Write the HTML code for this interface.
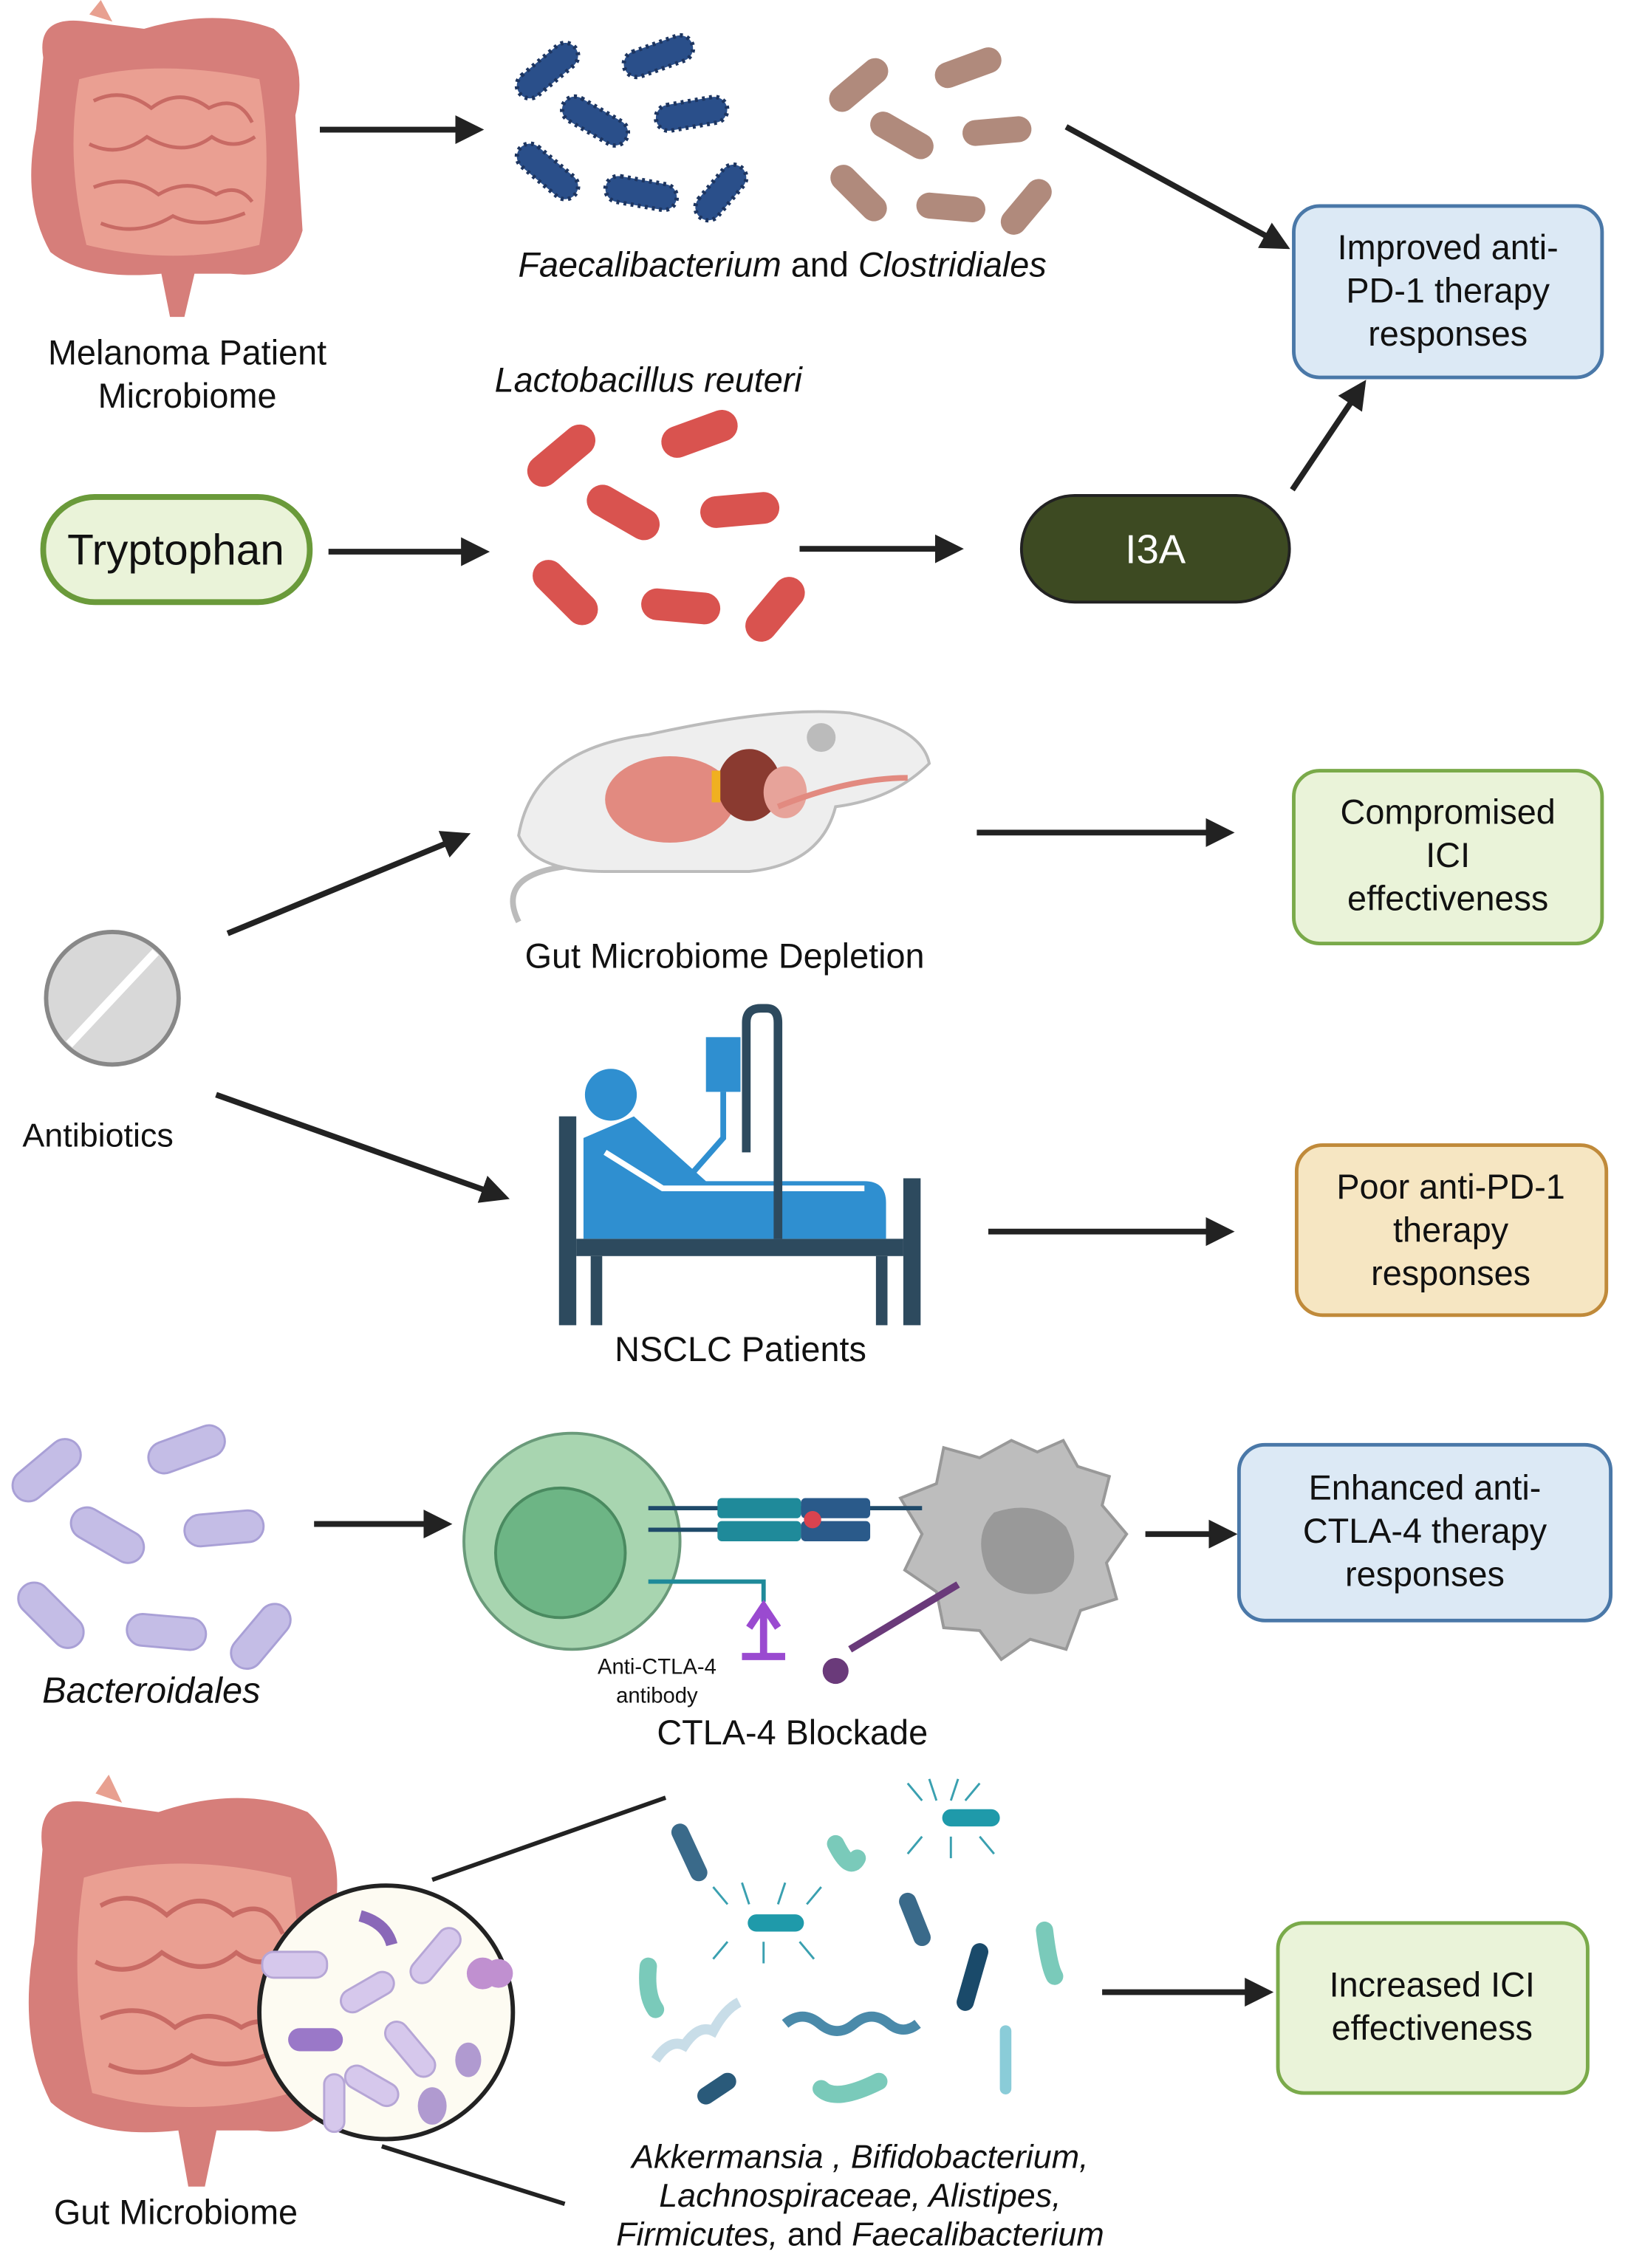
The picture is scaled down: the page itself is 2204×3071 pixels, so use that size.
<!DOCTYPE html>
<html><head><meta charset="utf-8"><style>
html,body{margin:0;padding:0;background:#fff;width:2204px;height:3071px;overflow:hidden}
text{font-family:"Liberation Sans",sans-serif;fill:#111}
.it{font-style:italic}
</style></head><body>
<svg width="2204" height="3071" viewBox="0 0 1130 1574.5" xmlns="http://www.w3.org/2000/svg">
<defs>
<marker id="ah" markerWidth="5" markerHeight="5" refX="4" refY="2.5" orient="auto" markerUnits="strokeWidth"><path d="M0,0 L5,2.5 L0,5 z" fill="#222"/></marker>
<g id="gut">
 <path d="M30,40 Q25,10 60,15 L100,20 Q150,5 190,20 Q215,40 205,80 L210,160 Q200,195 160,190 L135,190 L128,220 L118,220 L112,190 Q60,195 35,175 Q15,140 25,90 Z" fill="#d67e7a"/>
 <path d="M55,55 Q110,40 180,55 Q190,110 180,170 Q120,185 60,170 Q45,110 55,55 Z" fill="#ea9f92"/>
 <path d="M65,70 q20,-10 40,5 q20,-15 40,0 q20,-10 30,10 M62,100 q20,10 40,-5 q25,15 45,0 q15,10 30,0 M65,130 q25,-10 45,5 q20,-12 40,0 q15,-8 25,5 M70,155 q25,10 50,-5 q20,10 50,-2" stroke="#c86a64" stroke-width="2.5" fill="none"/>
 <path d="M62,10 L70,0 L78,15" fill="#e8a090"/>
</g>
</defs>

<use href="#gut" x="0" y="0"/>
<text x="130" y="253" font-size="24" text-anchor="middle">Melanoma Patient</text>
<text x="130" y="283" font-size="24" text-anchor="middle">Microbiome</text>
<line x1="222" y1="90" x2="332" y2="90" stroke="#222" stroke-width="4" marker-end="url(#ah)"/>
<g fill="#2a4f8a" stroke="#1d3560" stroke-width="3" stroke-dasharray="2 3">
 <rect x="355" y="40" width="50" height="18" rx="9" transform="rotate(-40 380 49)"/>
 <rect x="432" y="30" width="50" height="18" rx="9" transform="rotate(-20 457 39)"/>
 <rect x="388" y="75" width="50" height="18" rx="9" transform="rotate(30 413 84)"/>
 <rect x="455" y="70" width="50" height="18" rx="9" transform="rotate(-10 480 79)"/>
 <rect x="355" y="110" width="50" height="18" rx="9" transform="rotate(40 380 119)"/>
 <rect x="420" y="125" width="50" height="18" rx="9" transform="rotate(10 445 134)"/>
 <rect x="478" y="125" width="45" height="18" rx="9" transform="rotate(-50 500 134)"/>
</g>
<g fill="#b08a7c">
 <rect x="572" y="50" width="48" height="18" rx="9" transform="rotate(-40 596 59)"/>
 <rect x="648" y="38" width="48" height="18" rx="9" transform="rotate(-20 672 47)"/>
 <rect x="602" y="85" width="48" height="18" rx="9" transform="rotate(30 626 94)"/>
 <rect x="668" y="82" width="48" height="18" rx="9" transform="rotate(-5 692 91)"/>
 <rect x="572" y="125" width="48" height="18" rx="9" transform="rotate(45 596 134)"/>
 <rect x="636" y="135" width="48" height="18" rx="9" transform="rotate(5 660 144)"/>
 <rect x="690" y="135" width="45" height="18" rx="9" transform="rotate(-50 712 144)"/>
</g>
<text x="543" y="192" font-size="24" text-anchor="middle"><tspan class="it">Faecalibacterium</tspan> and <tspan class="it">Clostridiales</tspan></text>
<line x1="740" y1="88" x2="892" y2="171" stroke="#222" stroke-width="4" marker-end="url(#ah)"/>
<rect x="898" y="143" width="214" height="119" rx="18" fill="#dce9f5" stroke="#4a78a8" stroke-width="2.5"/>
<text x="1005" y="180" font-size="24" text-anchor="middle">Improved anti-</text>
<text x="1005" y="210" font-size="24" text-anchor="middle">PD-1 therapy</text>
<text x="1005" y="240" font-size="24" text-anchor="middle">responses</text>

<text x="450" y="272" font-size="24" text-anchor="middle" class="it">Lactobacillus reuteri</text>
<rect x="30" y="345" width="185" height="73" rx="36" fill="#eaf3d9" stroke="#6a9a3a" stroke-width="4"/>
<text x="122" y="392" font-size="30" text-anchor="middle">Tryptophan</text>
<line x1="228" y1="383" x2="336" y2="383" stroke="#222" stroke-width="4" marker-end="url(#ah)"/>
<g fill="#d9534f">
 <rect x="362" y="305" width="55" height="22" rx="11" transform="rotate(-40 390 316)"/>
 <rect x="458" y="290" width="55" height="22" rx="11" transform="rotate(-20 486 301)"/>
 <rect x="405" y="345" width="55" height="22" rx="11" transform="rotate(30 433 356)"/>
 <rect x="486" y="343" width="55" height="22" rx="11" transform="rotate(-5 514 354)"/>
 <rect x="365" y="400" width="55" height="22" rx="11" transform="rotate(45 392 411)"/>
 <rect x="445" y="410" width="55" height="22" rx="11" transform="rotate(5 473 421)"/>
 <rect x="512" y="412" width="52" height="22" rx="11" transform="rotate(-50 538 423)"/>
</g>
<line x1="555" y1="381" x2="665" y2="381" stroke="#222" stroke-width="4" marker-end="url(#ah)"/>
<rect x="709" y="344" width="186" height="74" rx="37" fill="#3d4a22" stroke="#222" stroke-width="2"/>
<text x="802" y="391" font-size="28" text-anchor="middle" style="fill:#fff">I3A</text>
<line x1="897" y1="340" x2="946" y2="267" stroke="#222" stroke-width="4" marker-end="url(#ah)"/>

<g>
 <path d="M360,640 Q340,600 420,600" stroke="#bbb" stroke-width="4" fill="none"/>
 <path d="M360,580 Q370,520 450,510 Q540,490 590,495 Q640,505 645,530 Q620,555 580,560 Q570,600 520,605 L420,605 Q370,605 360,580 Z" fill="#eee" stroke="#bbb" stroke-width="2"/>
 <ellipse cx="465" cy="555" rx="45" ry="30" fill="#e28a80"/>
 <ellipse cx="520" cy="545" rx="22" ry="25" fill="#8a3a30"/>
 <ellipse cx="545" cy="550" rx="15" ry="18" fill="#e7a39a"/>
 <rect x="494" y="535" width="6" height="22" fill="#f0b020"/>
 <circle cx="570" cy="512" r="10" fill="#bbb"/>
 <path d="M540,560 Q590,540 630,540" stroke="#e28a80" stroke-width="4" fill="none"/>
</g>
<text x="503" y="672" font-size="24" text-anchor="middle">Gut Microbiome Depletion</text>
<line x1="158" y1="648" x2="323" y2="580" stroke="#222" stroke-width="4" marker-end="url(#ah)"/>
<line x1="678" y1="578" x2="853" y2="578" stroke="#222" stroke-width="4" marker-end="url(#ah)"/>
<rect x="898" y="535" width="214" height="120" rx="18" fill="#eaf3d9" stroke="#7aaa4a" stroke-width="2.5"/>
<text x="1005" y="572" font-size="24" text-anchor="middle">Compromised</text>
<text x="1005" y="602" font-size="24" text-anchor="middle">ICI</text>
<text x="1005" y="632" font-size="24" text-anchor="middle">effectiveness</text>

<circle cx="78" cy="693" r="46" fill="#d8d8d8" stroke="#888" stroke-width="3"/>
<line x1="48" y1="725" x2="108" y2="661" stroke="#fff" stroke-width="6"/>
<text x="68" y="796" font-size="23" text-anchor="middle">Antibiotics</text>
<line x1="150" y1="760" x2="350" y2="831" stroke="#222" stroke-width="4" marker-end="url(#ah)"/>

<g>
 <rect x="388" y="775" width="12" height="145" fill="#2d4a5e"/>
 <rect x="627" y="818" width="12" height="102" fill="#2d4a5e"/>
 <rect x="400" y="860" width="227" height="12" fill="#2d4a5e"/>
 <rect x="410" y="872" width="8" height="48" fill="#2d4a5e"/>
 <rect x="608" y="872" width="8" height="48" fill="#2d4a5e"/>
 <circle cx="424" cy="760" r="18" fill="#2f8fd0"/>
 <path d="M405,790 L440,775 L490,820 L600,820 Q615,820 615,835 L615,860 L405,860 Z" fill="#2f8fd0"/>
 <path d="M420,800 L460,825 L600,825" stroke="#fff" stroke-width="4" fill="none"/>
 <rect x="490" y="720" width="24" height="38" fill="#2f8fd0"/>
 <path d="M502,758 L502,790 L480,815" stroke="#2f8fd0" stroke-width="4" fill="none"/>
 <path d="M518,800 L518,710 Q518,700 528,700 L532,700 Q540,700 540,710 L540,860" stroke="#2d4a5e" stroke-width="6" fill="none"/>
</g>
<text x="514" y="945" font-size="24" text-anchor="middle">NSCLC Patients</text>
<line x1="686" y1="855" x2="853" y2="855" stroke="#222" stroke-width="4" marker-end="url(#ah)"/>
<rect x="900" y="795" width="215" height="118" rx="18" fill="#f6e6c2" stroke="#c08a3a" stroke-width="2.5"/>
<text x="1007" y="832" font-size="24" text-anchor="middle">Poor anti-PD-1</text>
<text x="1007" y="862" font-size="24" text-anchor="middle">therapy</text>
<text x="1007" y="892" font-size="24" text-anchor="middle">responses</text>

<g fill="#c4bde6" stroke="#a9a0d6" stroke-width="1.5">
 <rect x="5" y="1010" width="55" height="22" rx="11" transform="rotate(-40 32 1021)"/>
 <rect x="102" y="995" width="55" height="22" rx="11" transform="rotate(-20 130 1006)"/>
 <rect x="47" y="1055" width="55" height="22" rx="11" transform="rotate(30 75 1066)"/>
 <rect x="128" y="1050" width="55" height="22" rx="11" transform="rotate(-5 156 1061)"/>
 <rect x="8" y="1110" width="55" height="22" rx="11" transform="rotate(45 35 1121)"/>
 <rect x="88" y="1122" width="55" height="22" rx="11" transform="rotate(5 116 1133)"/>
 <rect x="155" y="1125" width="52" height="22" rx="11" transform="rotate(-50 181 1136)"/>
</g>
<text x="105" y="1182" font-size="25" text-anchor="middle" class="it">Bacteroidales</text>
<line x1="218" y1="1058" x2="310" y2="1058" stroke="#222" stroke-width="4" marker-end="url(#ah)"/>
<circle cx="397" cy="1070" r="75" fill="#a8d5b0" stroke="#6a9a7a" stroke-width="2"/>
<circle cx="389" cy="1078" r="45" fill="#6db585" stroke="#4a8a60" stroke-width="2"/>
<path d="M702,1000 L720,1008 L738,1000 L748,1018 L770,1025 L765,1045 L782,1065 L768,1085 L775,1110 L750,1118 L740,1145 L715,1138 L695,1152 L680,1132 L655,1130 L650,1105 L628,1090 L640,1065 L625,1040 L650,1030 L655,1005 L680,1012 Z" fill="#bdbdbd" stroke="#999" stroke-width="2"/>
<path d="M690,1050 Q720,1040 740,1060 Q755,1090 730,1105 Q700,1112 685,1090 Q675,1065 690,1050 Z" fill="#999"/>
<line x1="450" y1="1047" x2="640" y2="1047" stroke="#1f4a6a" stroke-width="3"/>
<line x1="450" y1="1062" x2="500" y2="1062" stroke="#1f4a6a" stroke-width="3"/>
<rect x="498" y="1040" width="58" height="14" rx="3" fill="#1f8a9a"/>
<rect x="498" y="1056" width="58" height="14" rx="3" fill="#1f8a9a"/>
<rect x="556" y="1040" width="48" height="14" rx="3" fill="#2a5a8a"/>
<rect x="556" y="1056" width="48" height="14" rx="3" fill="#2a5a8a"/>
<circle cx="564" cy="1055" r="6" fill="#d9434f"/>
<path d="M450,1098 L530,1098 L530,1112" stroke="#1f8a9a" stroke-width="3" fill="none"/>
<path d="M520,1130 L530,1115 L540,1130 M530,1115 L530,1150 M515,1150 L545,1150" stroke="#9a4ad0" stroke-width="5" fill="none"/>
<path d="M665,1100 L590,1145" stroke="#6a3a7a" stroke-width="5"/>
<circle cx="580" cy="1160" r="9" fill="#6a3a7a"/>
<text x="456" y="1162" font-size="15" text-anchor="middle">Anti-CTLA-4</text>
<text x="456" y="1182" font-size="15" text-anchor="middle">antibody</text>
<text x="550" y="1211" font-size="24" text-anchor="middle">CTLA-4 Blockade</text>
<line x1="795" y1="1065" x2="855" y2="1065" stroke="#222" stroke-width="4" marker-end="url(#ah)"/>
<rect x="860" y="1003" width="258" height="122" rx="18" fill="#dce9f5" stroke="#4a78a8" stroke-width="2.5"/>
<text x="989" y="1041" font-size="24" text-anchor="middle">Enhanced anti-</text>
<text x="989" y="1071" font-size="24" text-anchor="middle">CTLA-4  therapy</text>
<text x="989" y="1101" font-size="24" text-anchor="middle">responses</text>

<g transform="translate(-5 1232) scale(1.15 1.3)"><use href="#gut"/></g>
<line x1="300" y1="1305" x2="462" y2="1248" stroke="#222" stroke-width="3"/>
<line x1="265" y1="1490" x2="392" y2="1530" stroke="#222" stroke-width="3"/>
<circle cx="268" cy="1397" r="88" fill="#fdfbf2" stroke="#222" stroke-width="3"/>
<g fill="#d6c8ec" stroke="#b6a6d6" stroke-width="1.5">
 <rect x="235" y="1375" width="40" height="16" rx="8" transform="rotate(-30 255 1383)"/>
 <rect x="280" y="1350" width="45" height="16" rx="8" transform="rotate(-50 302 1358)"/>
 <rect x="262" y="1415" width="45" height="16" rx="8" transform="rotate(50 285 1423)"/>
 <rect x="238" y="1440" width="40" height="16" rx="8" transform="rotate(30 258 1448)"/>
 <rect x="182" y="1355" width="45" height="18" rx="8"/>
 <rect x="225" y="1440" width="14" height="40" rx="7"/>
</g>
<rect x="200" y="1408" width="38" height="16" rx="8" fill="#9a78c8"/>
<path d="M250,1330 Q268,1335 272,1350" stroke="#8a68b8" stroke-width="8" fill="none"/>
<circle cx="335" cy="1370" r="11" fill="#c090d0"/><circle cx="346" cy="1370" r="10" fill="#c090d0"/>
<ellipse cx="325" cy="1430" rx="9" ry="12" fill="#b09ad0"/>
<ellipse cx="300" cy="1462" rx="10" ry="13" fill="#b09ad0"/>
<g stroke-width="12" stroke-linecap="round" fill="none">
 <line x1="485" y1="1300" x2="472" y2="1272" stroke="#3a6a8a"/>
 <line x1="640" y1="1345" x2="630" y2="1320" stroke="#3a6a8a"/>
 <line x1="680" y1="1355" x2="670" y2="1390" stroke="#1a4a6a"/>
 <line x1="505" y1="1445" x2="490" y2="1455" stroke="#2a5a7a"/>
 <path d="M580,1280 Q590,1300 595,1290" stroke="#7acaba"/>
 <path d="M610,1445 Q580,1460 570,1450" stroke="#7acaba"/>
 <path d="M450,1365 Q448,1385 455,1395" stroke="#7acaba"/>
 <path d="M725,1340 Q728,1365 732,1372" stroke="#7acaba"/>
 <line x1="660" y1="1262" x2="688" y2="1262" stroke="#1f9aaa"/>
 <line x1="525" y1="1335" x2="552" y2="1335" stroke="#1f9aaa"/>
 <line x1="698" y1="1410" x2="698" y2="1450" stroke="#8accd8" stroke-width="8"/>
</g>
<path d="M545,1405 q12,-10 24,0 q12,10 24,0 q12,-10 24,0 q10,8 20,0" stroke="#4a8aaa" stroke-width="7" fill="none"/>
<path d="M455,1430 q10,-15 20,-10 q10,-15 20,-10 q8,-15 18,-20" stroke="#c8dde8" stroke-width="7" fill="none"/>
<g stroke="#3aa0b0" stroke-width="1.5" fill="none">
 <path d="M640,1250 l-10,-12 M650,1250 l-5,-15 M660,1250 l5,-15 M670,1250 l10,-12 M640,1275 l-10,12 M660,1275 l0,15 M680,1275 l10,12"/>
 <path d="M505,1322 l-10,-12 M520,1322 l-5,-15 M540,1322 l5,-15 M560,1322 l10,-12 M505,1348 l-10,12 M530,1348 l0,15 M555,1348 l10,12"/>
</g>
<text x="597" y="1505" font-size="23" text-anchor="middle" class="it">Akkermansia , Bifidobacterium,</text>
<text x="597" y="1532" font-size="23" text-anchor="middle" class="it">Lachnospiraceae, Alistipes,</text>
<text x="597" y="1559" font-size="23" text-anchor="middle"><tspan class="it">Firmicutes,</tspan> and <tspan class="it">Faecalibacterium</tspan></text>
<text x="122" y="1544" font-size="24" text-anchor="middle">Gut Microbiome</text>
<line x1="765" y1="1383" x2="880" y2="1383" stroke="#222" stroke-width="4" marker-end="url(#ah)"/>
<rect x="887" y="1335" width="215" height="118" rx="18" fill="#eaf3d9" stroke="#7aaa4a" stroke-width="2.5"/>
<text x="994" y="1386" font-size="24" text-anchor="middle">Increased ICI</text>
<text x="994" y="1416" font-size="24" text-anchor="middle">effectiveness</text>
</svg>
</body></html>
